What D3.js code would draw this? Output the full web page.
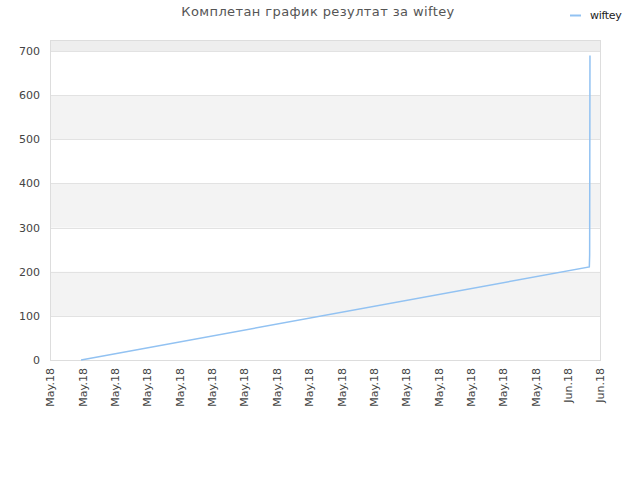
<!DOCTYPE html>
<html>
<head>
<meta charset="utf-8">
<script src="https://cdn.jsdelivr.net/npm/d3@7"></script>
<style>
  body { margin: 0; background: #fff; }
  text { font-family: "DejaVu Sans", sans-serif; }
</style>
</head>
<body>
<script>
// données
const titre = 'Комплетан график резултат за wiftey';
const serie = 'wiftey';
const etiquettesX = ['May.18','May.18','May.18','May.18','May.18','May.18','May.18','May.18',
  'May.18','May.18','May.18','May.18','May.18','May.18','May.18','May.18','Jun.18','Jun.18'];
const jours = [0.96, 16.67, 16.68, 16.69];
const valeurs = [0, 211, 238, 690];
const ticksY = [0, 100, 200, 300, 400, 500, 600, 700];

const largeur = 640, hauteur = 480;
const marge = {haut: 40, droite: 40, bas: 120, gauche: 50};

const canevas = d3.select('body')
  .append('svg')
  .attr('width', largeur)
  .attr('height', hauteur);

const x = d3.scaleLinear()
  .domain([0, etiquettesX.length - 1])
  .range([marge.gauche, largeur - marge.droite]);
const y = d3.scaleLinear()
  .domain([0, 725])
  .range([hauteur - marge.bas, marge.haut]);

// bandes de fond
const bandes = [[700, 725, '#eeeeee'], [500, 600, '#f3f3f3'], [300, 400, '#f3f3f3'], [100, 200, '#f3f3f3']];
canevas.selectAll('rect.bande')
  .data(bandes)
  .enter()
  .append('rect')
  .attr('class', 'bande')
  .attr('x', x.range()[0])
  .attr('width', x.range()[1] - x.range()[0])
  .attr('y', d => y(d[1]))
  .attr('height', d => y(d[0]) - y(d[1]))
  .attr('fill', d => d[2]);

// lignes de grille
canevas.selectAll('line.grille')
  .data(ticksY)
  .enter()
  .append('line')
  .attr('x1', x.range()[0])
  .attr('x2', x.range()[1])
  .attr('y1', d => Math.round(y(d)) + 0.5)
  .attr('y2', d => Math.round(y(d)) + 0.5)
  .attr('stroke', '#e2e2e2');

// cadre
canevas.append('rect')
  .attr('x', x.range()[0] + 0.5)
  .attr('y', y.range()[1] + 0.5)
  .attr('width', x.range()[1] - x.range()[0])
  .attr('height', y.range()[0] - y.range()[1])
  .attr('fill', 'none')
  .attr('stroke', '#dddddd');

// axe Y
const axeY = canevas.append('g')
  .attr('transform', `translate(${x.range()[0]},0)`)
  .call(d3.axisLeft(y).tickValues(ticksY).tickSize(0).tickPadding(10));
axeY.select('.domain').remove();
axeY.selectAll('text').attr('fill', '#444').style('font-size', '11px');

// axe X
const axeX = canevas.append('g')
  .attr('transform', `translate(0,${y.range()[0]})`)
  .call(d3.axisBottom(x).tickValues(d3.range(etiquettesX.length))
    .tickFormat(i => etiquettesX[i]).tickSize(0));
axeX.select('.domain').remove();
axeX.selectAll('text')
  .attr('fill', '#444')
  .style('font-size', '11px')
  .attr('text-anchor', 'end')
  .attr('transform', 'rotate(-90)')
  .attr('x', -8)
  .attr('y', 0)
  .attr('dy', '0.35em');

// la courbe
const ligne = d3.line()
  .x(d => x(d[0]))
  .y(d => y(d[1]));
canevas.append('path')
  .datum(jours.map((j, i) => [j, valeurs[i]]))
  .attr('d', ligne)
  .attr('fill', 'none')
  .attr('stroke', '#92c2f2')
  .attr('stroke-width', 1.5);

// titre
canevas.append('text')
  .attr('x', 318)
  .attr('y', 16)
  .attr('text-anchor', 'middle')
  .attr('fill', '#555')
  .style('font-size', '13px')
  .style('letter-spacing', '0.4px')
  .text(titre);

// légende
canevas.append('line')
  .attr('x1', 570).attr('x2', 581)
  .attr('y1', 15.5).attr('y2', 15.5)
  .attr('stroke', '#92c2f2')
  .attr('stroke-width', 2);
canevas.append('text')
  .attr('x', 590)
  .attr('y', 19)
  .attr('fill', '#222')
  .style('font-size', '11px')
  .style('letter-spacing', '-0.3px')
  .text(serie);
</script>
</body>
</html>
